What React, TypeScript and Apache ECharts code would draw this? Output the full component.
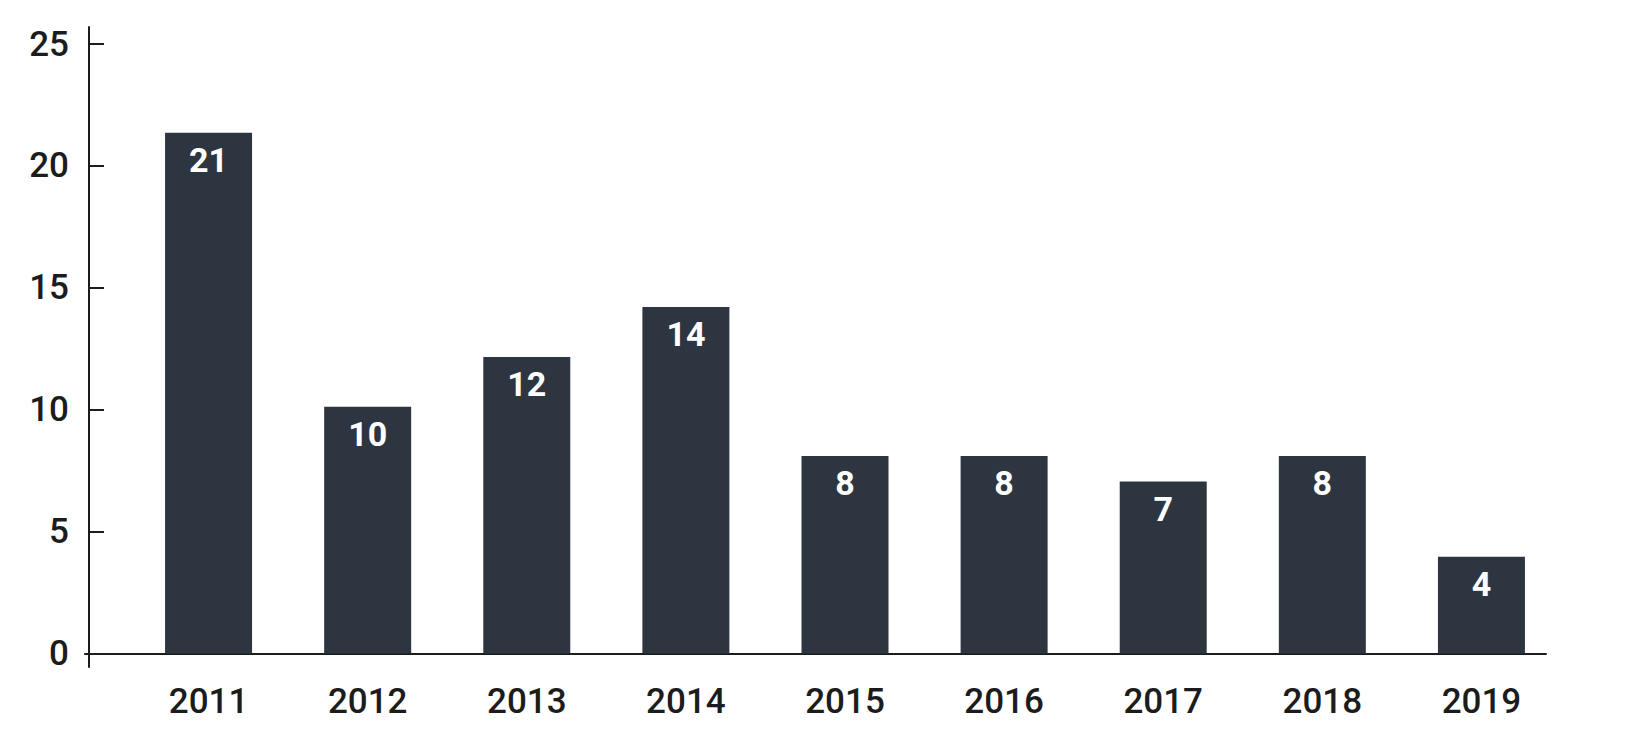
import { useEffect, useRef } from 'react'
import * as echarts from 'echarts'

// years on the x axis
const YEARS = ['2011', '2012', '2013', '2014', '2015', '2016', '2017', '2018', '2019']
// bar heights (labels show the rounded count)
const VALUES = [21.36, 10.12, 12.16, 14.21, 8.1, 8.1, 7.05, 8.1, 3.97]

const BAR_COLOR = '#2d3640'
const AXIS_COLOR = '#1c1c1c'
const FONT = 'Roboto, "Liberation Sans", sans-serif'

export default function App() {
  const chartRef = useRef<HTMLDivElement>(null)

  useEffect(() => {
    document.body.style.margin = '0'
    if (!chartRef.current) return
    const chart = echarts.init(chartRef.current, undefined, { renderer: 'svg' })

    const option: echarts.EChartsOption = {
      animation: false,
      backgroundColor: '#ffffff',
      grid: [
        // frame: only the two axis lines, a little longer than the plot
        { left: 85, right: 82, top: 27, bottom: 73 },
        // plot
        { left: 129, right: 67, top: 44, bottom: 86.5 },
      ],
      xAxis: [
        {
          gridIndex: 0,
          type: 'value',
          min: -4,
          max: 1457,
          axisLine: { show: true, onZero: true, lineStyle: { color: AXIS_COLOR, width: 2 } },
          axisTick: { show: false },
          axisLabel: { show: false },
          splitLine: { show: false },
        },
        {
          gridIndex: 1,
          type: 'category',
          data: YEARS,
          axisLine: { show: false },
          axisTick: { show: false },
          axisLabel: {
            color: AXIS_COLOR,
            fontFamily: FONT,
            fontWeight: 500,
            fontSize: 35,
            margin: 30,
          },
        },
      ],
      yAxis: [
        {
          gridIndex: 0,
          type: 'value',
          min: -13.5,
          max: 626.5,
          axisLine: { show: true, onZero: true, lineStyle: { color: AXIS_COLOR, width: 2 } },
          axisTick: { show: false },
          axisLabel: { show: false },
          splitLine: { show: false },
        },
        {
          gridIndex: 1,
          type: 'value',
          min: 0,
          max: 25,
          interval: 5,
          offset: 40,
          axisLine: { show: false },
          axisTick: {
            show: true,
            inside: true,
            length: 15,
            lineStyle: { color: AXIS_COLOR, width: 2 },
          },
          axisLabel: {
            color: AXIS_COLOR,
            fontFamily: FONT,
            fontWeight: 500,
            fontSize: 35,
            margin: 20,
          },
          splitLine: { show: false },
        },
      ],
      series: [
        {
          type: 'bar',
          xAxisIndex: 1,
          yAxisIndex: 1,
          data: VALUES,
          barWidth: 87,
          itemStyle: { color: BAR_COLOR },
          label: {
            show: true,
            position: 'insideTop',
            distance: 10,
            color: '#ffffff',
            fontFamily: FONT,
            fontWeight: 'bold',
            fontSize: 34,
            formatter: (p: any) => String(Math.round(p.value)),
          },
        },
      ],
    }

    chart.setOption(option)
    return () => chart.dispose()
  }, [])

  return <div ref={chartRef} style={{ width: 1628, height: 740 }} />
}
